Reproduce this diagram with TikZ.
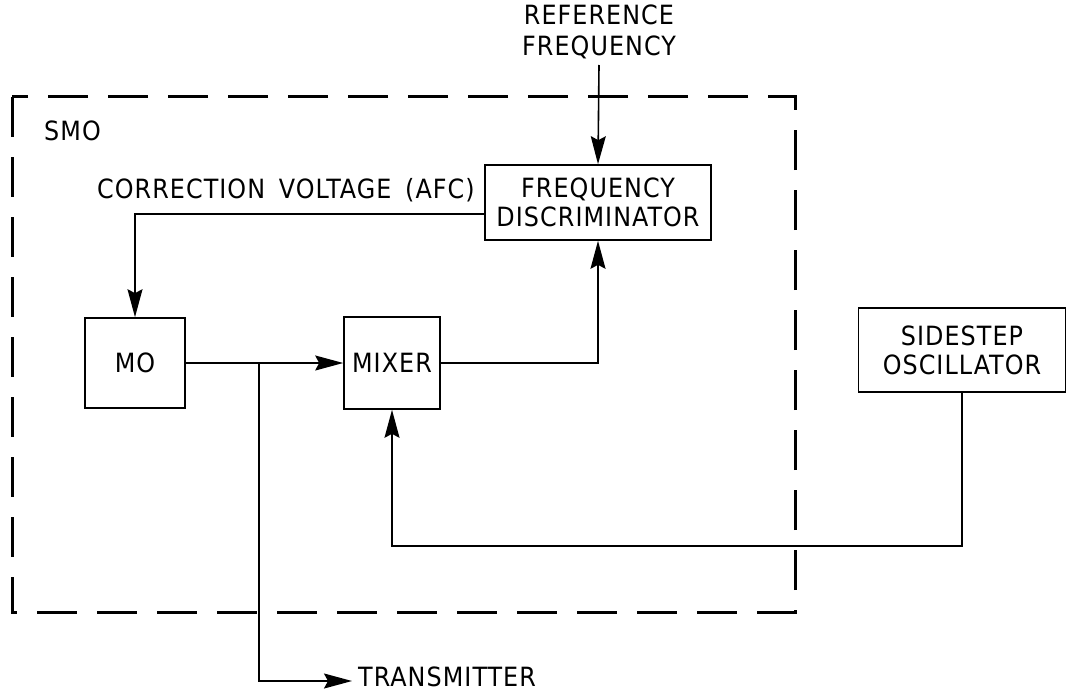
\documentclass[tikz,border=0pt]{standalone}
\usepackage{fontspec}
\setmainfont[LetterSpace=4,WordSpace=1.6]{DejaVu Sans Condensed}
\usetikzlibrary{arrows.meta}
\begin{document}
\begin{tikzpicture}[x=1pt,y=-1pt,
  blk/.style={draw,line width=1.6pt,inner sep=0pt,align=center,font=\fontsize{26.5}{29}\selectfont},
  conn/.style={line width=1.6pt,-{Stealth[length=28pt,width=15pt,inset=4pt]}},
  lbl/.style={inner sep=0pt,align=center,font=\fontsize{26.5}{31}\selectfont},
  smobox/.style={line width=3pt,dash pattern=on 40pt off 20pt}]
\useasboundingbox (0,0) rectangle (1067,690);
\draw[smobox] (12,97) rectangle (795,612);
\node[lbl,anchor=west] (smo) at (44,131) {SMO};
\node[lbl] (ref) at (599,32) {REFERENCE\\FREQUENCY};
\coordinate (refin) at (599,65);
\node[blk,minimum width=226pt,minimum height=75pt] (fd) at (598,202.5) {FREQUENCY\\DISCRIMINATOR};
\node[blk,minimum width=100pt,minimum height=90pt] (mo) at (135,363) {MO};
\node[blk,minimum width=96pt,minimum height=92pt] (mix) at (392,363) {MIXER};
\node[blk,minimum width=207pt,minimum height=84pt] (side) at (962,350) {SIDESTEP\\OSCILLATOR};
\node[lbl] (afc) at (286,190) {CORRECTION VOLTAGE (AFC)};
\node[lbl,anchor=west,text height=18pt,text depth=0pt] (tx) at (358,677) {TRANSMITTER};
\coordinate (afcy) at (0,214);
\coordinate (br) at (259,363);
\coordinate (ret) at (0,546);
\draw[conn] (refin) -- (fd.north);
\draw[conn] (fd.west |- afcy) -| (mo.north);
\draw[conn] (mo.east) -- (mix.west);
\draw[conn] (br) |- ([xshift=-6pt,yshift=-4pt]tx.west);
\draw[conn] (mix.east) -| (fd.south);
\draw[conn] (side.south) -- (side.south |- ret) -| (mix.south);
\end{tikzpicture}
\end{document}
